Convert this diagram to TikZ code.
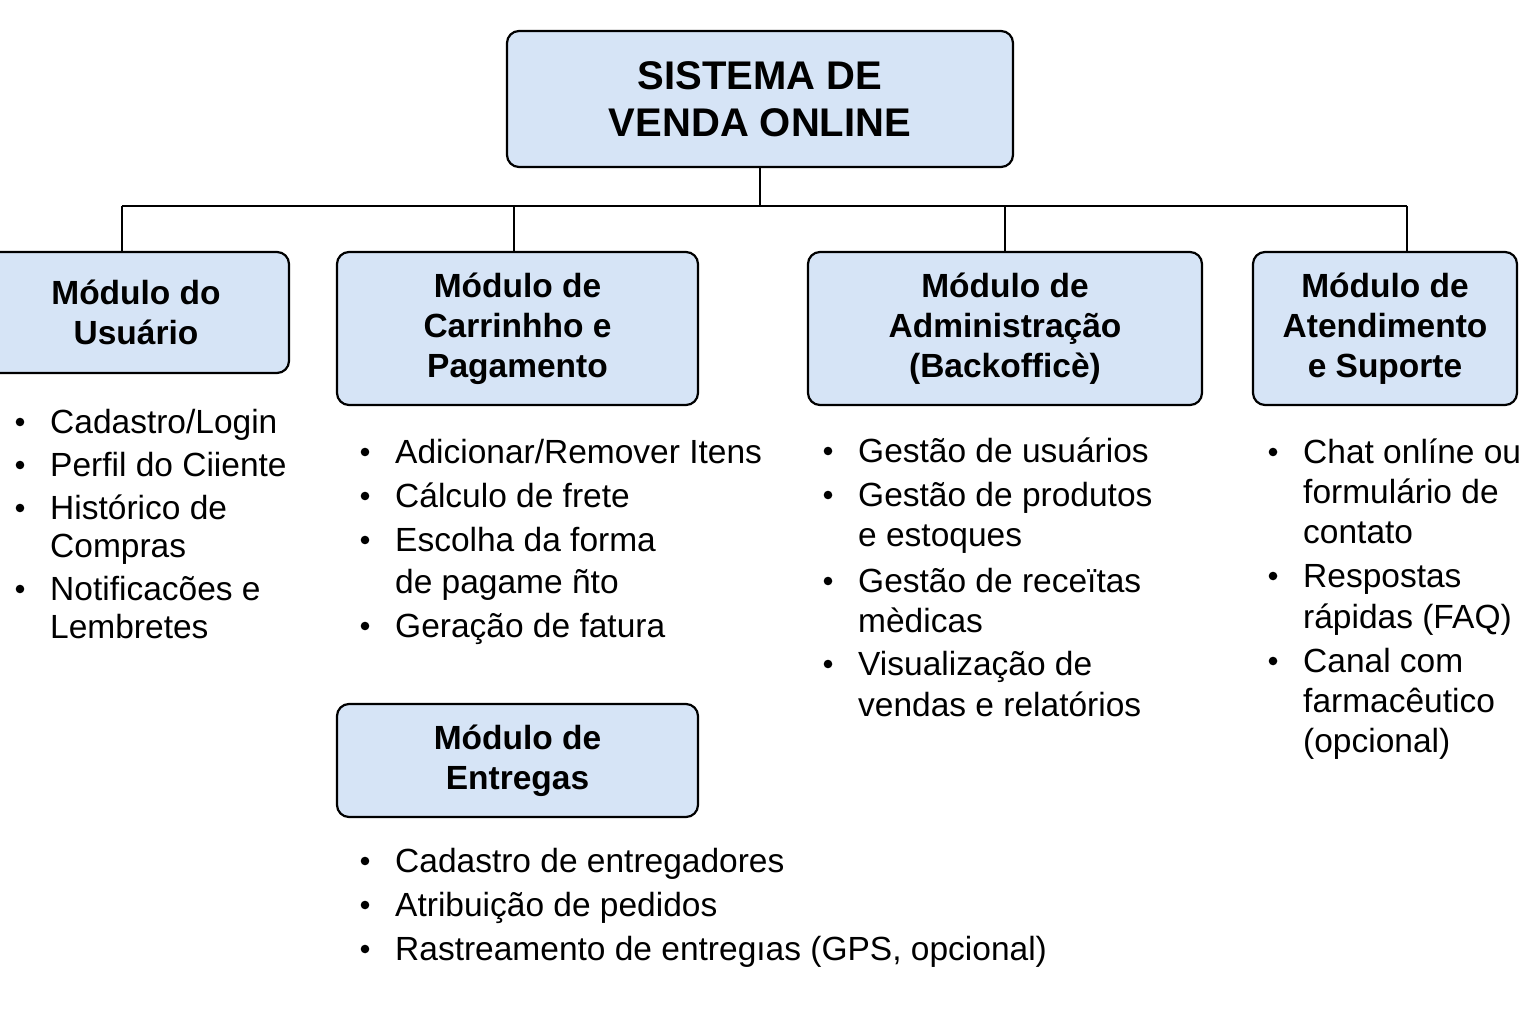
\documentclass[tikz,border=0pt]{standalone}
\usepackage{fontspec}
\setmainfont{Liberation Sans}
\definecolor{boxblue}{RGB}{214,228,246}
\tikzset{
  mod/.style={draw=black, line width=2.2pt, fill=boxblue, rounded corners=12pt,
    inner sep=0pt, align=center, font=\bfseries\fontsize{33.5}{40}\selectfont},
  conn/.style={draw=black, line width=2pt},
  itemtext/.style={anchor=base west, inner sep=0pt, font=\fontsize{33.5}{40}\selectfont},
  dot/.style={fill=black}
}
\newcommand\itm[4]{%
  \fill[dot] (#2,#3-11) circle (4.3);
  \node[itemtext] (#1) at (#2+30,#3) {#4};}
\newcommand\cont[4]{%
  \node[itemtext] (#1) at (#2+30,#3) {#4};}
\begin{document}
\begin{tikzpicture}[x=1pt,y=-1pt]
\useasboundingbox (0,0) rectangle (1536,1024);
\fill[white] (0,0) rectangle (1536,1024);

% boxes
\node[mod, minimum width=506, minimum height=136, font=\bfseries\fontsize{40}{47}\selectfont]
  (top) at (760,99) {SISTEMA DE\\VENDA ONLINE};
\node[mod, minimum width=306, minimum height=121] (usr) at (136,312.5) {Módulo do\\Usuário};
\node[mod, minimum width=361, minimum height=153] (cart) at (517.5,328.5) {Módulo de\\Carrinhho e\\Pagamento};
\node[mod, minimum width=394, minimum height=153] (adm) at (1005,328.5) {Módulo de\\Administração\\(Backofficè)};
\node[mod, minimum width=264, minimum height=153] (sup) at (1385,328.5) {Módulo de\\Atendimento\\e Suporte};
\node[mod, minimum width=361, minimum height=113] (ent) at (517.5,760.5) {Módulo de\\Entregas};

% connectors
\coordinate (busL) at (122,206);
\coordinate (busR) at (1407,206);
\coordinate (b2) at (514,206);
\coordinate (b3) at (1005,206);
\draw[conn] (top.south) -- (top.south |- busL);
\draw[conn] (busL) -- (busR);
\draw[conn] (busL) -- (busL |- usr.north);
\draw[conn] (b2) -- (b2 |- cart.north);
\draw[conn] (b3) -- (b3 |- adm.north);
\draw[conn] (busR) -- (busR |- sup.north);

% Usuario items
\itm{u1}{20}{433}{Cadastro/Login}
\itm{u2}{20}{476}{Perfil do Ciiente}
\itm{u3}{20}{519}{Histórico de}
\cont{u3b}{20}{557}{Compras}
\itm{u4}{20}{600}{Notificacões e}
\cont{u4b}{20}{638}{Lembretes}

% Carrinho items
\itm{c1}{365}{463}{Adicionar/Remover Itens}
\itm{c2}{365}{507}{Cálculo de frete}
\itm{c3}{365}{551}{Escolha da forma}
\cont{c3b}{365}{593}{de pagame ñto}
\itm{c4}{365}{637}{Geração de fatura}

% Administracao items
\itm{a1}{828}{462}{Gestão de usuários}
\itm{a2}{828}{506}{Gestão de produtos}
\cont{a2b}{828}{546}{e estoques}
\itm{a3}{828}{592}{Gestão de receïtas}
\cont{a3b}{828}{632}{mèdicas}
\itm{a4}{828}{675}{Visualização de}
\cont{a4b}{828}{716}{vendas e relatórios}

% Atendimento items
\itm{s1}{1273}{463}{Chat onlíne ou}
\cont{s1b}{1273}{503}{formulário de}
\cont{s1c}{1273}{543}{contato}
\itm{s2}{1273}{587}{Respostas}
\cont{s2b}{1273}{628}{rápidas (FAQ)}
\itm{s3}{1273}{672}{Canal com}
\cont{s3b}{1273}{712}{farmacêutico}
\cont{s3c}{1273}{752}{(opcional)}

% Entregas items
\itm{e1}{365}{872}{Cadastro de entregadores}
\itm{e2}{365}{916}{Atribuição de pedidos}
\itm{e3}{365}{960}{Rastreamento de entregıas (GPS, opcional)}
\end{tikzpicture}
\end{document}
